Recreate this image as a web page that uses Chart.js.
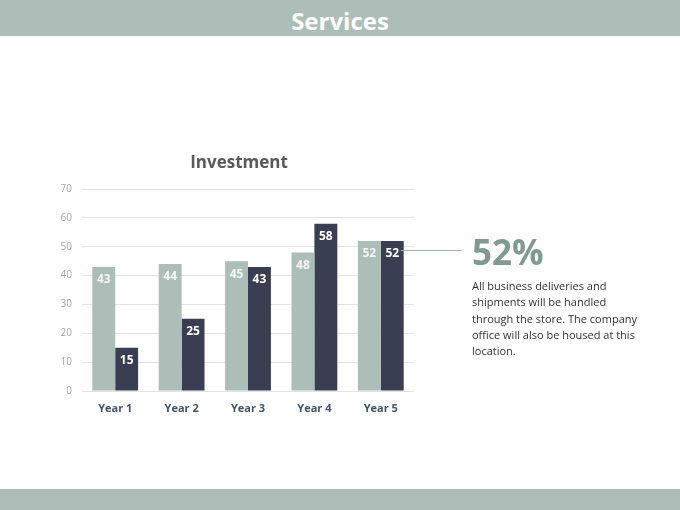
<!DOCTYPE html>
<html>
<head>
<meta charset="utf-8">
<script src="https://cdn.jsdelivr.net/npm/chart.js@4"></script>
<style>
  html, body { margin:0; padding:0; background:#fff; }
  body { width:680px; height:510px; position:relative; overflow:hidden; font-family:"Open Sans", sans-serif; }
  .hdr { position:absolute; left:0; top:0; width:680px; height:36px; background:#adbdb8; color:#fff; font-weight:bold; font-size:24px; text-align:center; line-height:41px; }
  .ftr { position:absolute; left:0; top:489px; width:680px; height:21px; background:#adbdb8; }
  #wrap { position:absolute; left:0; top:140px; width:680px; height:281px; }
  .ttl { position:absolute; left:139px; width:200px; top:150px; text-align:center; font-size:17px; font-weight:bold; color:#595959; line-height:24px; }
  .big { position:absolute; left:472px; top:229px; font-size:35px; font-weight:bold; color:#7f9b91; line-height:46px; }
  .para { position:absolute; left:472px; top:278px; width:200px; font-size:11px; line-height:16.3px; color:#333; }
</style>
</head>
<body>
<div class="hdr">Services</div>
<div id="wrap"><canvas id="c"></canvas></div>
<div class="ttl">Investment</div>
<div class="big">52%</div>
<div class="para">All business deliveries and<br>shipments will be handled<br>through the store. The company<br>office will also be housed at this<br>location.</div>
<div class="ftr"></div>
<script>
const categories = ["Year 1", "Year 2", "Year 3", "Year 4", "Year 5"];
const seriesA = [43, 44, 45, 48, 52];
const seriesB = [15, 25, 43, 58, 52];
const yTicks = [0, 10, 20, 30, 40, 50, 60, 70];

const labelPlugin = {
  id: 'barLabels',
  afterDatasetsDraw(chart) {
    const ctx = chart.ctx;
    ctx.save();
    const meta1 = chart.getDatasetMeta(1);
    const lastBar = meta1.data[meta1.data.length - 1];
    const yy = Math.round(lastBar.y + 9) + 0.5;
    ctx.strokeStyle = '#9fb2ac';
    ctx.lineWidth = 1;
    ctx.beginPath();
    ctx.moveTo(lastBar.x + lastBar.width / 2 - 3, yy);
    ctx.lineTo(462, yy);
    ctx.stroke();
    ctx.font = 'bold 12px "Open Sans", sans-serif';
    ctx.textAlign = 'center';
    ctx.textBaseline = 'middle';
    chart.data.datasets.forEach((ds, di) => {
      const meta = chart.getDatasetMeta(di);
      meta.data.forEach((bar, i) => {
        ctx.fillStyle = di === 0 ? '#f4f6f5' : '#ffffff';
        ctx.fillText(String(ds.data[i]), bar.x, bar.y + 13);
      });
    });
    ctx.restore();
  }
};

new Chart(document.getElementById('c'), {
  type: 'bar',
  data: {
    labels: categories,
    datasets: [
      { data: seriesA, backgroundColor: '#adbdb8', categoryPercentage: 0.69, barPercentage: 1.0 },
      { data: seriesB, backgroundColor: '#3a3e52', categoryPercentage: 0.69, barPercentage: 1.0 }
    ]
  },
  options: {
    responsive: true,
    maintainAspectRatio: false,
    animation: false,
    layout: { padding: { left: 50, right: 266, top: 49, bottom: 0 } },
    plugins: {
      legend: { display: false },
      tooltip: { enabled: false },
      title: { display: false }
    },
    scales: {
      x: {
        grid: { display: false },
        border: { display: false },
        ticks: { color: '#44546a', font: { family: '"Open Sans", sans-serif', size: 11, weight: 'bold' }, padding: 3 },
        afterFit(s) { s.height = 30; }
      },
      y: {
        min: 0, max: 70,
        afterBuildTicks(s) { s.ticks = yTicks.map(v => ({ value: v })); },
        grid: { color: '#e3e3e3', drawTicks: false },
        border: { display: false },
        ticks: { color: '#a6a6a6', font: { family: '"Open Sans", sans-serif', size: 10 }, padding: 10 },
        afterFit(s) { s.width = 32; }
      }
    }
  },
  plugins: [labelPlugin]
});
</script>
</body>
</html>
